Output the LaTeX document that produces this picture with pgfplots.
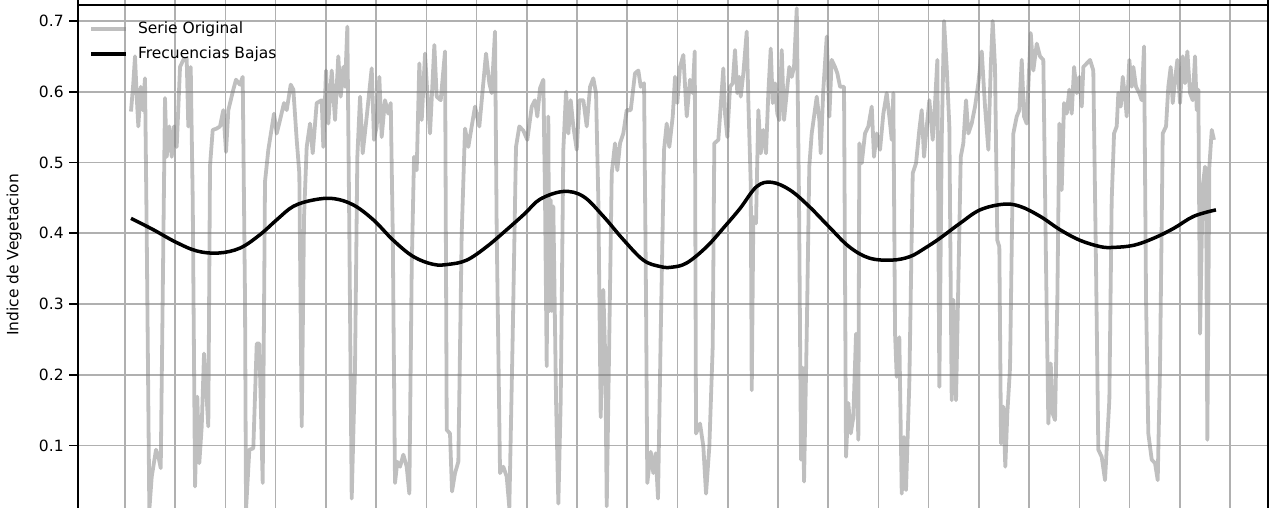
\documentclass[border=0pt]{standalone}
\usepackage{fontspec}
\setmainfont{DejaVu Sans}
\usepackage{pgfplots}
\pgfplotsset{compat=1.18}
\definecolor{gridc}{HTML}{B0B0B0}
\newcommand{\fs}{\fontsize{15.5pt}{18pt}\selectfont}
\begin{document}
\fs
\begin{tikzpicture}
\begin{axis}[
  at={(78pt,-22.4pt)}, anchor=south west,
  scale only axis, width=1190pt, height=550.8pt,
  xmin=2000.064, xmax=2023.755, ymin=-0.02, ymax=0.7585,
  xtick={2001,2002,...,2023}, xticklabels={},
  ytick={0.1,0.2,0.3,0.4,0.5,0.6,0.7},
  yticklabel style={/pgf/number format/fixed,/pgf/number format/precision=1,/pgf/number format/fixed zerofill},
  /pgf/number format/assume math mode=true,
  every tick label/.append style={font=\fs},
  tick align=outside, xtick pos=bottom, ytick pos=left,
  major tick length=9pt,
  grid=major, major grid style={gridc, line width=1.6pt},
  axis line style={line width=1.8pt}, tick style={black, line width=1.8pt},
  ylabel={Indice de Vegetacion},
  ylabel style={at={(axis description cs:-0.0538,0.5)}, anchor=center, font=\fs},
  legend style={at={(axis cs:2000.285,0.7022)}, anchor=north west, draw=none, fill=none, font=\fs, inner sep=0pt, row sep=7pt,
    column sep=8pt},
  legend cell align=left,
  legend image code/.code={\draw[#1] (0pt,0pt) -- (35pt,0pt);},
]
\addplot[gray, draw opacity=0.5, line width=3.8pt, line join=round] coordinates {
(2001.119,0.572)(2001.165,0.612)(2001.199,0.650)(2001.233,0.593)(2001.265,0.551)(2001.313,0.607)(2001.352,0.574)(2001.398,0.619)
(2001.432,0.400)(2001.484,0.009)(2001.532,0.056)(2001.617,0.094)(2001.663,0.085)(2001.711,0.068)(2001.796,0.591)(2001.830,0.508)
(2001.882,0.551)(2001.930,0.508)(2001.976,0.551)(2002.029,0.522)(2002.095,0.635)(2002.161,0.645)(2002.228,0.647)(2002.260,0.551)
(2002.308,0.635)(2002.348,0.447)(2002.394,0.042)(2002.439,0.169)(2002.479,0.075)(2002.527,0.127)(2002.573,0.230)(2002.613,0.183)
(2002.658,0.127)(2002.692,0.495)(2002.746,0.546)(2002.826,0.548)(2002.891,0.551)(2002.957,0.574)(2003.011,0.515)(2003.057,0.574)
(2003.156,0.603)(2003.210,0.617)(2003.289,0.610)(2003.343,0.621)(2003.389,0.306)(2003.409,0.009)(2003.475,0.094)(2003.554,0.096)
(2003.622,0.244)(2003.674,0.244)(2003.741,0.047)(2003.787,0.473)(2003.853,0.518)(2003.966,0.569)(2004.020,0.541)(2004.086,0.560)
(2004.165,0.584)(2004.219,0.574)(2004.299,0.610)(2004.351,0.603)(2004.418,0.532)(2004.470,0.485)(2004.518,0.127)(2004.564,0.423)
(2004.617,0.522)(2004.683,0.555)(2004.737,0.513)(2004.816,0.584)(2004.916,0.588)(2004.948,0.522)(2005.002,0.630)(2005.047,0.555)
(2005.115,0.630)(2005.181,0.560)(2005.246,0.650)(2005.294,0.593)(2005.346,0.635)(2005.380,0.607)(2005.426,0.692)(2005.466,0.400)
(2005.513,0.025)(2005.579,0.210)(2005.625,0.508)(2005.679,0.593)(2005.732,0.513)(2005.812,0.565)(2005.911,0.633)(2005.957,0.532)
(2006.011,0.551)(2006.063,0.621)(2006.110,0.536)(2006.176,0.588)(2006.242,0.569)(2006.290,0.584)(2006.330,0.400)(2006.375,0.047)
(2006.421,0.077)(2006.475,0.070)(2006.541,0.087)(2006.608,0.070)(2006.660,0.032)(2006.708,0.353)(2006.754,0.508)(2006.807,0.489)
(2006.859,0.640)(2006.907,0.560)(2006.973,0.654)(2007.018,0.598)(2007.072,0.541)(2007.158,0.666)(2007.205,0.593)(2007.285,0.588)
(2007.371,0.657)(2007.405,0.122)(2007.470,0.117)(2007.510,0.035)(2007.570,0.061)(2007.636,0.077)(2007.703,0.400)(2007.769,0.548)
(2007.835,0.522)(2007.902,0.551)(2007.968,0.579)(2008.054,0.551)(2008.121,0.603)(2008.187,0.654)(2008.253,0.612)(2008.300,0.598)
(2008.366,0.685)(2008.400,0.400)(2008.466,0.061)(2008.531,0.070)(2008.599,0.056)(2008.651,0.012)(2008.719,0.258)(2008.784,0.522)
(2008.850,0.551)(2008.930,0.545)(2009.009,0.532)(2009.097,0.579)(2009.162,0.588)(2009.208,0.565)(2009.262,0.605)(2009.328,0.617)
(2009.362,0.447)(2009.395,0.212)(2009.427,0.565)(2009.447,0.290)(2009.475,0.447)(2009.495,0.290)(2009.527,0.438)(2009.581,0.164)
(2009.627,0.018)(2009.674,0.164)(2009.726,0.518)(2009.780,0.600)(2009.826,0.541)(2009.873,0.588)(2009.925,0.551)(2009.993,0.518)
(2010.045,0.588)(2010.124,0.588)(2010.192,0.551)(2010.258,0.607)(2010.323,0.619)(2010.377,0.598)(2010.423,0.447)(2010.470,0.140)
(2010.522,0.320)(2010.562,0.220)(2010.590,0.014)(2010.642,0.258)(2010.690,0.485)(2010.755,0.527)(2010.801,0.489)(2010.855,0.527)
(2010.920,0.541)(2010.988,0.574)(2011.068,0.574)(2011.153,0.626)(2011.219,0.630)(2011.267,0.607)(2011.333,0.612)(2011.372,0.310)
(2011.398,0.047)(2011.466,0.091)(2011.518,0.061)(2011.565,0.089)(2011.611,0.025)(2011.665,0.258)(2011.731,0.518)(2011.784,0.555)
(2011.836,0.522)(2011.904,0.565)(2011.950,0.621)(2011.995,0.584)(2012.049,0.635)(2012.115,0.652)(2012.183,0.565)(2012.248,0.617)
(2012.302,0.598)(2012.342,0.657)(2012.368,0.117)(2012.447,0.131)(2012.513,0.099)(2012.567,0.032)(2012.633,0.099)(2012.700,0.240)
(2012.732,0.527)(2012.812,0.532)(2012.879,0.600)(2012.911,0.633)(2012.945,0.569)(2012.991,0.536)(2013.045,0.607)(2013.098,0.612)
(2013.144,0.659)(2013.190,0.598)(2013.230,0.621)(2013.258,0.593)(2013.310,0.626)(2013.377,0.685)(2013.409,0.588)(2013.457,0.470)
(2013.477,0.178)(2013.509,0.423)(2013.562,0.414)(2013.608,0.574)(2013.656,0.513)(2013.708,0.546)(2013.761,0.513)(2013.807,0.598)
(2013.855,0.661)(2013.895,0.584)(2013.940,0.612)(2013.986,0.569)(2014.026,0.560)(2014.074,0.659)(2014.120,0.560)(2014.173,0.598)
(2014.225,0.635)(2014.273,0.621)(2014.319,0.635)(2014.373,0.718)(2014.418,0.447)(2014.458,0.080)(2014.492,0.210)(2014.518,0.049)
(2014.572,0.258)(2014.623,0.495)(2014.671,0.541)(2014.717,0.565)(2014.771,0.593)(2014.823,0.560)(2014.850,0.513)(2014.902,0.603)
(2014.970,0.678)(2015.022,0.565)(2015.069,0.645)(2015.135,0.635)(2015.181,0.626)(2015.235,0.607)(2015.314,0.607)(2015.354,0.084)
(2015.400,0.160)(2015.448,0.117)(2015.499,0.140)(2015.553,0.258)(2015.599,0.108)(2015.619,0.527)(2015.667,0.499)(2015.732,0.541)
(2015.798,0.551)(2015.866,0.579)(2015.911,0.508)(2015.965,0.541)(2016.031,0.518)(2016.097,0.569)(2016.164,0.598)(2016.216,0.565)
(2016.264,0.532)(2016.296,0.598)(2016.330,0.258)(2016.363,0.197)(2016.415,0.253)(2016.463,0.032)(2016.508,0.112)(2016.548,0.037)
(2016.614,0.188)(2016.682,0.485)(2016.748,0.499)(2016.813,0.546)(2016.861,0.574)(2016.907,0.508)(2016.961,0.551)(2017.013,0.588)
(2017.080,0.532)(2017.126,0.584)(2017.172,0.645)(2017.212,0.183)(2017.259,0.532)(2017.305,0.700)(2017.358,0.635)(2017.411,0.551)
(2017.458,0.164)(2017.490,0.306)(2017.544,0.164)(2017.590,0.330)(2017.638,0.508)(2017.689,0.527)(2017.743,0.588)(2017.789,0.541)
(2017.856,0.555)(2017.922,0.579)(2017.988,0.612)(2018.056,0.657)(2018.121,0.579)(2018.187,0.518)(2018.235,0.635)(2018.274,0.700)
(2018.320,0.635)(2018.366,0.390)(2018.406,0.381)(2018.440,0.103)(2018.486,0.155)(2018.525,0.070)(2018.565,0.145)(2018.619,0.210)
(2018.685,0.541)(2018.752,0.565)(2018.804,0.574)(2018.852,0.645)(2018.898,0.565)(2018.951,0.555)(2019.031,0.683)(2019.083,0.630)
(2019.151,0.668)(2019.216,0.650)(2019.282,0.645)(2019.336,0.353)(2019.382,0.131)(2019.429,0.216)(2019.469,0.145)(2019.515,0.136)
(2019.561,0.306)(2019.601,0.555)(2019.648,0.461)(2019.694,0.584)(2019.748,0.569)(2019.800,0.603)(2019.847,0.569)(2019.894,0.635)
(2019.947,0.598)(2020.000,0.621)(2020.047,0.579)(2020.079,0.635)(2020.146,0.640)(2020.212,0.645)(2020.277,0.630)(2020.331,0.353)
(2020.377,0.094)(2020.444,0.084)(2020.510,0.051)(2020.596,0.164)(2020.643,0.447)(2020.690,0.541)(2020.743,0.551)(2020.775,0.598)
(2020.823,0.579)(2020.863,0.621)(2020.908,0.593)(2020.942,0.565)(2020.994,0.645)(2021.042,0.607)(2021.074,0.635)(2021.127,0.607)
(2021.193,0.598)(2021.241,0.588)(2021.287,0.664)(2021.327,0.306)(2021.372,0.117)(2021.440,0.080)(2021.506,0.075)(2021.559,0.051)
(2021.605,0.210)(2021.659,0.541)(2021.725,0.551)(2021.770,0.607)(2021.818,0.635)(2021.858,0.584)(2021.904,0.617)(2021.950,0.645)
(2022.003,0.584)(2022.057,0.650)(2022.103,0.612)(2022.149,0.657)(2022.203,0.598)(2022.256,0.588)(2022.302,0.650)(2022.336,0.574)
(2022.368,0.603)(2022.402,0.258)(2022.455,0.466)(2022.501,0.494)(2022.521,0.485)(2022.547,0.108)(2022.587,0.494)(2022.635,0.546)
(2022.680,0.532)
};
\addlegendentry{Serie Original}
\addplot[black, line width=3.5pt, smooth, tension=0.6] coordinates {
(2001.119,0.421)(2001.563,0.405)(2001.995,0.388)(2002.427,0.375)(2002.857,0.372)(2003.289,0.379)(2003.688,0.398)(2004.020,0.419)
(2004.351,0.438)(2004.749,0.447)(2005.147,0.449)(2005.545,0.440)(2005.943,0.419)(2006.341,0.390)(2006.740,0.367)(2007.138,0.356)
(2007.436,0.356)(2007.803,0.362)(2008.201,0.381)(2008.599,0.405)(2008.963,0.428)(2009.262,0.448)(2009.726,0.459)(2010.124,0.452)
(2010.522,0.424)(2010.920,0.391)(2011.319,0.362)(2011.651,0.353)(2011.884,0.352)(2012.183,0.358)(2012.581,0.381)(2012.945,0.410)
(2013.244,0.435)(2013.576,0.466)(2013.875,0.472)(2014.240,0.461)(2014.618,0.438)(2015.017,0.409)(2015.415,0.381)(2015.813,0.365)
(2016.264,0.362)(2016.628,0.367)(2016.927,0.379)(2017.225,0.393)(2017.623,0.414)(2018.022,0.433)(2018.486,0.441)(2018.818,0.438)
(2019.216,0.424)(2019.614,0.405)(2020.012,0.390)(2020.420,0.381)(2020.685,0.380)(2021.083,0.383)(2021.481,0.393)(2021.880,0.407)
(2022.278,0.424)(2022.718,0.433)
};
\addlegendentry{Frecuencias Bajas}
\addplot[black, line width=1.8pt, forget plot] coordinates {(2000.064,0.7226) (2023.755,0.7226)};
\end{axis}
\pgfresetboundingbox
\useasboundingbox (0pt,0pt) rectangle (1276pt,508pt);
\end{tikzpicture}
\end{document}
